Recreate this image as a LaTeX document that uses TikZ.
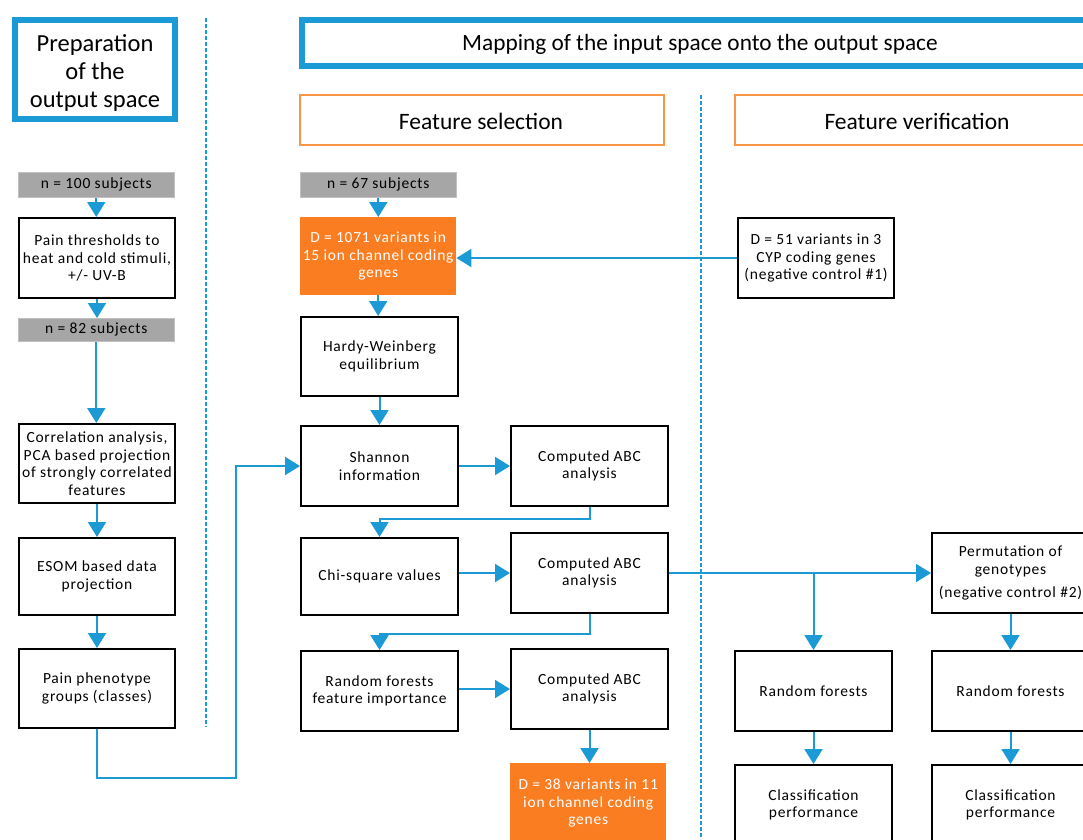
\documentclass[tikz,border=0pt]{standalone}
\usepackage{fontspec}
\setmainfont{Carlito}[LetterSpace=5]
\newfontfamily\hdrfont{Carlito}
\usetikzlibrary{arrows.meta}
\definecolor{lblue}{HTML}{1B9AD6}
\definecolor{hdrorange}{HTML}{F79646}
\definecolor{fillorange}{HTML}{FA7D22}
\definecolor{gfill}{HTML}{A6A6A6}
\begin{document}
\begin{tikzpicture}[x=1pt,y=-1pt,
  base/.style={anchor=north west, align=center, inner sep=0pt, font=\fontsize{15.5}{17.5}\selectfont},
  wbox/.style={base, draw=black, line width=2pt, fill=white},
  gbox/.style={base, fill=gfill, draw=gfill!70!white, line width=0.6pt},
  obox/.style={base, fill=fillorange, text=white},
  bhdr/.style={draw=lblue, line width=5.5pt},
  ohdr/.style={draw=hdrorange, line width=1.6pt},
  sep/.style={draw=lblue, line width=1.5pt, dash pattern=on 4pt off 2pt},
  arr/.style={draw=lblue, line width=2pt, -{Triangle[width=18pt,length=15pt]}}
]
\useasboundingbox (0,0) rectangle (1083,839);
\clip (0,0) rectangle (1083,839);

% headers
\draw[bhdr] (15,20) rectangle (175,119);
\node[font=\hdrfont\fontsize{24.5}{28}\selectfont, align=center] (hprep) at (95,73) {Preparation\\of the\\output space};
\draw[bhdr] (302,20) rectangle (1100,66);
\node[font=\hdrfont\fontsize{23.3}{24}\selectfont] (hmap) at (700,44) {Mapping of the input space onto the output space};
\draw[ohdr] (300,95) rectangle (664,145);
\node[font=\hdrfont\fontsize{23.5}{24}\selectfont] (hfs) at (481,121) {Feature selection};
\draw[ohdr] (735,95) rectangle (1100,145);
\node[font=\hdrfont\fontsize{23.5}{24}\selectfont] (hfv) at (917,121) {Feature verification};

% separators
\draw[sep] (206,18) -- (206,727);
\draw[sep] (701,95) -- (701,839);

% left column
\node[gbox, minimum width=156pt, minimum height=25pt] (n100) at (18,172) {n = 100 subjects};
\node[wbox, minimum width=156pt, minimum height=80pt] (pt) at (18,217) {Pain thresholds to\\heat and cold stimuli,\\+/- UV-B};
\node[gbox, minimum width=156pt, minimum height=23pt] (n82) at (18,318) {n = 82 subjects};
\node[wbox, minimum width=156pt, minimum height=79pt] (corr) at (18,423) {Correlation analysis,\\PCA based projection\\of strongly correlated\\features};
\node[wbox, minimum width=156pt, minimum height=77pt] (esom) at (18,537) {ESOM based data\\projection};
\node[wbox, minimum width=156pt, minimum height=79pt] (pp) at (18,648) {Pain phenotype\\groups (classes)};

% middle column
\node[gbox, minimum width=156pt, minimum height=25pt] (n67) at (300,172) {n = 67 subjects};
\node[obox, minimum width=156pt, minimum height=78pt] (d1071) at (300,217) {D = 1071 variants in\\15 ion channel coding\\genes};
\node[wbox, minimum width=157pt, minimum height=79pt] (hw) at (300,316) {Hardy-Weinberg\\equilibrium};
\node[wbox, minimum width=157pt, minimum height=80pt] (sh) at (300,425) {Shannon\\information};
\node[wbox, minimum width=157pt, minimum height=80pt] (abc1) at (510,425) {Computed ABC\\analysis};
\node[wbox, minimum width=157pt, minimum height=77pt] (chi) at (300,537) {Chi-square values};
\node[wbox, minimum width=157pt, minimum height=80pt] (abc2) at (510,532) {Computed ABC\\analysis};
\node[wbox, minimum width=157pt, minimum height=80pt] (rfi) at (300,650) {Random forests\\feature importance};
\node[wbox, minimum width=157pt, minimum height=80pt] (abc3) at (510,648) {Computed ABC\\analysis};
\node[obox, minimum width=156pt, minimum height=80pt] (d38) at (510,763) {D = 38 variants in 11\\ion channel coding\\genes};

% right column
\node[wbox, minimum width=156pt, minimum height=80pt] (d51) at (737,217) {D = 51 variants in 3\\CYP coding genes\\(negative control \#1)};
\node[wbox, minimum width=157pt, minimum height=80pt] (perm) at (931,532) {Permutation of\\genotypes\\[6pt](negative control \#2)};
\node[wbox, minimum width=157pt, minimum height=80pt] (rf1) at (734,650) {Random forests};
\node[wbox, minimum width=157pt, minimum height=80pt] (rf2) at (931,650) {Random forests};
\node[wbox, minimum width=157pt, minimum height=80pt] (cp1) at (734,764) {Classification\\performance};
\node[wbox, minimum width=157pt, minimum height=80pt] (cp2) at (931,764) {Classification\\performance};

% connectors left
\draw[arr] (n100.south) -- (n100.south |- pt.north);
\draw[arr] (pt.south) -- (pt.south |- n82.north);
\draw[arr] (n82.south) -- (n82.south |- corr.north);
\draw[arr] (corr.south) -- (corr.south |- esom.north);
\draw[arr] (esom.south) -- (esom.south |- pp.north);
\coordinate (k1) at (236,778);
\draw[arr] (pp.south) |- (k1) |- (sh.west);

% connectors middle
\draw[arr] (n67.south) -- (n67.south |- d1071.north);
\draw[arr] (d51.west) -- (d51.west -| d1071.east);
\draw[arr] (d1071.south) -- (d1071.south |- hw.north);
\draw[arr] (hw.south) -- (hw.south |- sh.north);
\draw[arr] (sh.east) -- (sh.east -| abc1.west);
\draw[arr] (abc1.south) -- ++(0,12) -| (chi.north);
\draw[arr] (chi.east |- abc2.west) -- (abc2.west);
\draw[arr] (abc2.south) -- ++(0,20) -| (rfi.north);
\draw[arr] (rfi.east |- abc3.west) -- (abc3.west);
\draw[arr] (abc3.south) -- (abc3.south |- d38.north);

% connectors right
\draw[arr] (abc2.east) -- (perm.west);
\coordinate (br) at (rf1.north |- abc2.east);
\draw[arr] (br) -- (rf1.north);
\draw[arr] (perm.south) -- (rf2.north);
\draw[arr] (rf1.south) -- (cp1.north);
\draw[arr] (rf2.south) -- (cp2.north);
\end{tikzpicture}
\end{document}
